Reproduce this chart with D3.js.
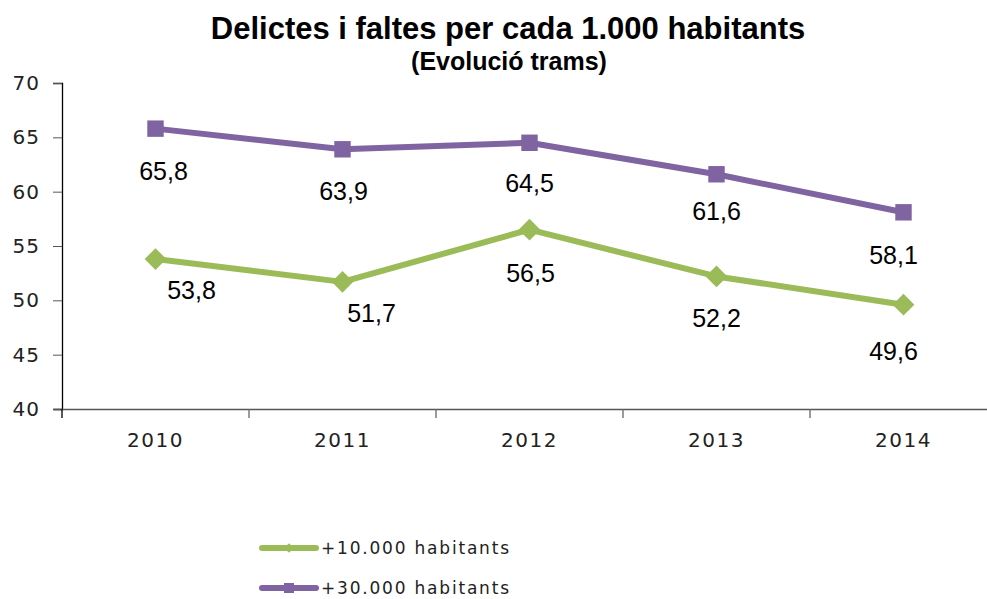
<!DOCTYPE html>
<html><head><meta charset="utf-8">
<script src="https://cdn.jsdelivr.net/npm/d3@7"></script>
<style>body{margin:0;background:#fff;}svg{display:block;}</style>
</head><body>
<svg id="c" width="987" height="599"></svg>
<script>
const years = ["2010","2011","2012","2013","2014"];
const green10k = [53.8, 51.7, 56.5, 52.2, 49.6];
const purple30k = [65.8, 63.9, 64.5, 61.6, 58.1];
const yTicks = [40,45,50,55,60,65,70];
const seriesNames = ["+10.000 habitants", "+30.000 habitants"];

// label layout offsets (px), not data
const greenLabelDx = [36, 29, 1, 0, -10];
const greenLabelDy = [31, 31, 43, 42, 46];
const purpleLabelDx = [8, 1, 0, 0, -10];
const purpleLabelDy = [42, 42, 40, 37, 43];

const svg = d3.select("#c");
const mLeft = 62, mRight = 997, mTop = 83, mBottom = 409;
const x = d3.scaleBand().domain(years).range([mLeft, mRight]);
const y = d3.scaleLinear().domain([40,70]).range([mBottom, mTop]);
const cx = d => x(d) + x.bandwidth()/2;

// title
svg.append("text").attr("x", 508).attr("y", 39).attr("text-anchor","middle")
  .style("font-family","Liberation Sans, Arial").style("font-weight","bold").style("font-size","31px")
  .text("Delictes i faltes per cada 1.000 habitants");
svg.append("text").attr("x", 509).attr("y", 70).attr("text-anchor","middle")
  .style("font-family","Liberation Sans, Arial").style("font-weight","bold").style("font-size","25px")
  .text("(Evolució trams)");

// y axis
const ya = svg.append("g").attr("transform",`translate(${mLeft},0)`)
  .call(d3.axisLeft(y).tickValues(yTicks).tickSize(9).tickPadding(13).tickFormat(d3.format("d")));
ya.select(".domain").attr("stroke","#000").attr("stroke-width",1.3);
ya.selectAll(".tick line").attr("stroke","#555");
ya.selectAll("text").style("font-family","DejaVu Sans").style("font-size","20px").style("letter-spacing","1px").attr("fill","#222");

// x axis
const xa = svg.append("g").attr("transform",`translate(0,${mBottom})`)
  .call(d3.axisBottom(x).tickSize(0).tickPadding(24));
xa.select(".domain").attr("stroke","#555").attr("stroke-width",1.3).attr("d",`M${mLeft-8},0.5H${mRight}`);
xa.selectAll("text").style("font-family","DejaVu Sans").style("font-size","20px").style("letter-spacing","1.5px").attr("fill","#222");
const bounds = years.map(d => x(d)).concat([mRight]);
svg.append("g").selectAll("line").data(bounds).join("line")
  .attr("x1", d=>d).attr("x2", d=>d).attr("y1", mBottom).attr("y2", mBottom+9)
  .attr("stroke", d => d===mLeft ? "#000" : "#666").attr("stroke-width",1.3);

const green = "#9BBB59", purple = "#8064A2";
const line = d3.line().x((d,i)=>cx(years[i])).y(d=>y(d));

function drawSeries(vals, color, shape, size, dx, dy) {
  svg.append("path").datum(vals).attr("d", line).attr("fill","none")
    .attr("stroke", color).attr("stroke-width",6).attr("stroke-linejoin","round");
  svg.append("g").selectAll("path").data(vals).join("path")
    .attr("d", d3.symbol().type(shape).size(size))
    .attr("transform",(d,i)=>`translate(${cx(years[i])},${y(d)})`)
    .attr("fill", color);
  svg.append("g").selectAll("text").data(vals).join("text")
    .attr("x",(d,i)=>cx(years[i]) + dx[i]).attr("y",(d,i)=>y(d) + dy[i] + 9)
    .attr("text-anchor","middle")
    .style("font-family","Liberation Sans, Arial").style("font-size","25px").attr("fill","#000")
    .text(d => d.toFixed(1).replace(".", ","));
}
drawSeries(green10k, green, d3.symbolDiamond2, 300, greenLabelDx, greenLabelDy);
drawSeries(purple30k, purple, d3.symbolSquare, 270, purpleLabelDx, purpleLabelDy);

// legend
const leg = [{name: seriesNames[0], color: green, shape: d3.symbolDiamond2, size: 60, ly: 548},
             {name: seriesNames[1], color: purple, shape: d3.symbolSquare, size: 100, ly: 588}];
const lg = svg.append("g").selectAll("g").data(leg).join("g");
lg.append("line").attr("x1",262).attr("x2",316).attr("y1",d=>d.ly).attr("y2",d=>d.ly)
  .attr("stroke",d=>d.color).attr("stroke-width",6).attr("stroke-linecap","round");
lg.append("path").attr("d",d=>d3.symbol().type(d.shape).size(d.size)())
  .attr("transform",d=>`translate(289,${d.ly})`).attr("fill",d=>d.color);
lg.append("text").attr("x",321).attr("y",d=>d.ly+6)
  .style("font-family","DejaVu Sans").style("font-size","17px").style("letter-spacing","1.8px").attr("fill","#222")
  .text(d=>d.name);
</script>
</body></html>
